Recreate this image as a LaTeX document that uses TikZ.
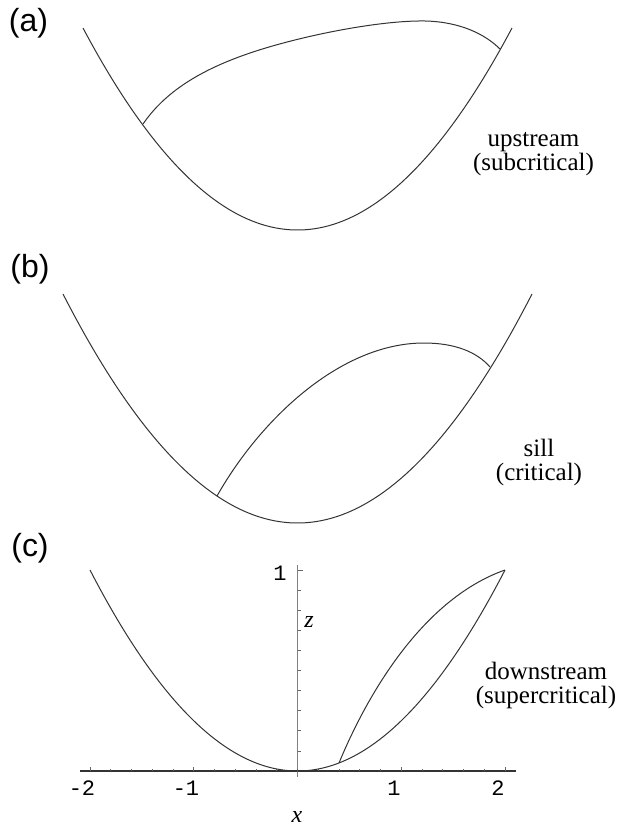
\documentclass[tikz,border=0pt]{standalone}
\usepackage{fontspec}
\setmainfont{Liberation Serif}
\newfontfamily\panelfont{Liberation Sans}
\newfontfamily\tickfont{Liberation Mono}
\usetikzlibrary{positioning,calc}

\begin{document}
\begin{tikzpicture}[x=0.5pt,y=-0.5pt,
  curve/.style={line width=0.5pt,black!80},
  panel/.style={font=\panelfont\fontsize{16}{16}\selectfont,inner sep=0pt},
  regime/.style={font=\fontsize{12.5}{12}\selectfont,align=center,inner sep=0pt},
  axisline/.style={line width=0.6pt,black!80},
  zaxisline/.style={line width=0.6pt,gray},
  tickmark/.style={line width=0.4pt,gray!80!black},
  ticklab/.style={font=\tickfont\fontsize{11}{11}\selectfont,inner sep=0pt},
  axlab/.style={font=\itshape\fontsize{12}{12}\selectfont,inner sep=0pt},
]
\useasboundingbox (0,0) rectangle (619,827);

% Panel (a): upstream
\node[panel] (la) at (28.5,23.5) {(a)};
\draw[curve] plot[domain=83:512,samples=90] (\x,{230-202*((\x-297.5)/214.5)*((\x-297.5)/214.5)});
\coordinate (aL) at (143,124);
\coordinate (aR) at (500,49);
\draw[curve] (aL) .. controls (165,92) and (200,70) .. (250,53)
  .. controls (300,36) and (380,20) .. (426,21)
  .. controls (460,22) and (485,34) .. (aR);
\node[regime] (ta) at (533.5,154) {upstream\\(subcritical)};

% Panel (b): sill
\node[panel] (lb) at (30,269) {(b)};
\draw[curve] plot[domain=63:532,samples=90] (\x,{523-229*((\x-297.5)/234.5)*((\x-297.5)/234.5)});
\coordinate (bL) at (217,496);
\coordinate (bR) at (490,367);
\draw[curve] (bL) .. controls (260,420) and (340,343) .. (424,343)
  .. controls (455,343) and (477,352) .. (bR);
\node[regime] (tb) at (539,462) {sill\\(critical)};

% Panel (c): downstream, with axes
\node[panel] (lc) at (30,548) {(c)};
\coordinate (xl) at (80,771);
\coordinate (xr) at (516,771);
\coordinate (zb) at (297.5,777);
\coordinate (zt) at (297.5,565);
\draw[axisline] (xl) -- (xr);
\draw[zaxisline] (zb) -- (zt);
% ticks
\foreach \t in {-2,-1.8,...,2.05}
  \draw[tickmark] ({297.5+103.75*\t},771) -- ++(0,-2.5);
\foreach \t in {-2,-1,1,2}
  \draw[tickmark] ({297.5+103.75*\t},771) -- ++(0,-4.5);
\foreach \k in {1,...,9}
  \draw[tickmark] (297.5,{771-20.1*\k}) -- ++(3,0);
\draw[tickmark] (297.5,570) -- ++(5,0);
\node[ticklab] (tm2) at (82,788) {-2};
\node[ticklab] (tm1) at (186,788) {-1};
\node[ticklab] (tp1) at (394,788) {1};
\node[ticklab] (tp2) at (498,788) {2};
\node[ticklab] (tz1) at (280,573) {1};
\node[axlab] (lz) at (309,622) {z};
\node[axlab] (lx) at (297,817) {x};
% profile
\draw[curve] plot[domain=90:505,samples=90] (\x,{771-201*((\x-297.5)/207.5)*((\x-297.5)/207.5)});
\coordinate (cL) at (339,763);
\coordinate (cR) at (505,570);
\draw[curve] (cL) .. controls (365,700) and (420,600) .. (cR);
\node[regime] (tc) at (546,685) {downstream\\(supercritical)};
\end{tikzpicture}
\end{document}
